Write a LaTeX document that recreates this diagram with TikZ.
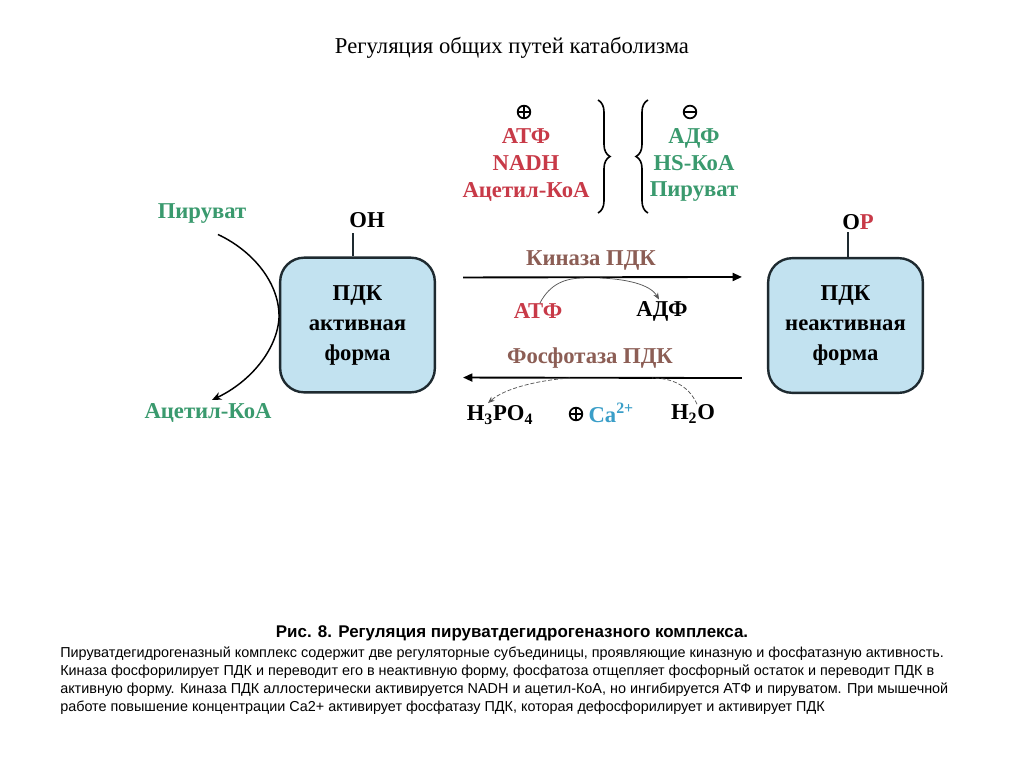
\documentclass[tikz,border=0pt]{standalone}
\usepackage{fontspec}
\setmainfont{Liberation Serif}
\newfontfamily\capfont{Liberation Sans}
\usetikzlibrary{arrows.meta,decorations.pathreplacing,calc}
\definecolor{lred}{HTML}{C83A48}
\definecolor{lgreen}{HTML}{3A9A6E}
\definecolor{lbrown}{HTML}{8C5E55}
\definecolor{boxfill}{HTML}{C2E2F0}
\definecolor{boxdraw}{HTML}{1E2A30}
\definecolor{cablue}{HTML}{3A9EC8}
\definecolor{thingray}{HTML}{555555}
\tikzset{
  pdk/.style={draw=boxdraw, line width=1.8pt, fill=boxfill, rounded corners=18pt,
    minimum width=116pt, minimum height=101pt, align=center, inner sep=0pt,
    font=\fontsize{17}{22.5}\selectfont\bfseries},
  lab/.style={font=\fontsize{17}{20}\selectfont\bfseries, inner sep=1pt},
  biglab/.style={font=\fontsize{17}{20}\selectfont\bfseries, inner sep=1pt, align=center},
  bond/.style={line width=1.1pt, draw=boxdraw},
  bigarrow/.style={line width=1.4pt, -{Triangle[length=7pt,width=6pt]}},
  thinc/.style={line width=0.55pt, draw=thingray},
  signp/.style={circle, draw, line width=1.3pt, minimum size=9.5pt, inner sep=0pt,
    path picture={\draw[line width=1.1pt] (path picture bounding box.west) -- (path picture bounding box.east)
      (path picture bounding box.north) -- (path picture bounding box.south);}},
  signm/.style={circle, draw, line width=1.3pt, minimum size=9.5pt, inner sep=0pt,
    path picture={\draw[line width=1.1pt] (path picture bounding box.west) -- (path picture bounding box.east);}},
  brc/.style={line width=1.2pt, decorate, decoration={brace, amplitude=9pt}},
}
\begin{document}
\begin{tikzpicture}[x=0.75pt,y=-0.75pt]
\useasboundingbox[fill=white] (0,0) rectangle (1024,767);
% title
\node[font=\fontsize{17}{20}\selectfont] (title) at (512,48) {Регуляция общих путей катаболизма};
% boxes
\node[pdk] (act) at (357.5,325) {ПДК\\активная\\форма};
\node[pdk] (inact) at (845.5,325.5) {ПДК\\неактивная\\форма};
% OH / OP
\node[lab] (oh) at (367,220) {OH};
\node[lab] (op) at (858,222) {O\textcolor{lred}{P}};
\draw[bond] ($(act.north)+(-4.5,0)$) -- ($(oh.south)+(-14,4)$);
\draw[bond] ($(inact.north)+(2.5,0)$) -- ($(op.south)+(-10,1)$);
% kinase
\node[lab, text=lbrown] (kin) at (591,260) {Киназа ПДК};
\draw[bigarrow] ($(act.north east)+(27,21)$) -- ($(inact.north west)+(-25,20)$);
\node[lab, text=lred] (atp) at (538,311) {АТФ};
\node[lab] (adp) at (662,311) {АДФ};
\draw[thinc] ($(atp.north)+(2,1)$) .. controls (550,284) and (565,278) .. (584,278);
\draw[thinc, -{Stealth[length=5pt,width=4pt]}] (600,278) .. controls (625,279) and (650,284) .. ($(adp.north)+(-3,0)$);
% phosphatase
\node[lab, text=lbrown] (phos) at (590,358) {Фосфотаза ПДК};
\draw[bigarrow] ($(inact.south west)+(-25,-16)$) -- ($(act.south east)+(27,-16)$);
\node[lab] (h3po4) at (500,415) {H\textsubscript{3}PO\textsubscript{4}};
\node[lab] (h2o) at (693,414) {H\textsubscript{2}O};
\node[signp] (plca) at (576,414) {};
\node[lab, text=cablue, anchor=west] (ca) at (587,413) {Ca\textsuperscript{2+}};
\draw[thinc, dashed, dash pattern=on 3pt off 1.5pt] ($(h2o.north)+(4,1)$) .. controls (688,384) and (670,378) .. (652,378);
\draw[thinc, dashed, dash pattern=on 3pt off 1.5pt, -{Stealth[length=5pt,width=4pt]}] (570,378) .. controls (540,380) and (505,388) .. ($(h3po4.north)+(-12,-1)$);
% regulators
\node[signp] (plus) at (524,112) {};
\node[biglab, text=lred] (actv) at (526,165) {АТФ\\NADH\\Ацетил-КоА};
\node[signm] (minus) at (690,112) {};
\node[biglab, text=lgreen] (inhb) at (694,165) {АДФ\\HS-КоА\\Пируват};
\draw[brc] (598,100) -- (598,213);
\draw[brc] (648,213) -- (648,100);
% pyruvate
\node[lab, text=lgreen] (pyr) at (202,214) {Пируват};
\node[lab, text=lgreen] (acoa) at (208,413) {Ацетил-КоА};
\draw[line width=1.1pt, -{Stealth[length=7pt,width=6pt]}] ($(pyr.south)+(16,9)$) .. controls (255,252) and (280,285) .. (279,318) .. controls (277,350) and (250,382) .. ($(acoa.north)+(4,-2)$);
% caption
\node[font=\fontsize{12.7}{14}\selectfont\capfont\bfseries] (cap) at (512,633) {Рис. 8. Регуляция пируватдегидрогеназного комплекса.};
\begin{scope}[every node/.style={anchor=west, inner sep=0pt, font=\fontsize{10.8}{12}\selectfont\capfont}]
\node (l1) at (60,654) {Пируватдегидрогеназный комплекс содержит две регуляторные субъединицы, проявляющие киназную и фосфатазную активность.};
\node (l2) at (60,672) {Киназа фосфорилирует ПДК и переводит его в неактивную форму, фосфатоза отщепляет фосфорный остаток и переводит ПДК в};
\node (l3) at (60,690) {активную форму. Киназа ПДК аллостерически активируется NADH и ацетил-КоА, но ингибируется АТФ и пируватом. При мышечной};
\node (l4) at (60,708) {работе повышение концентрации Ca2+ активирует фосфатазу ПДК, которая дефосфорилирует и активирует ПДК};
\end{scope}
\end{tikzpicture}
\end{document}
